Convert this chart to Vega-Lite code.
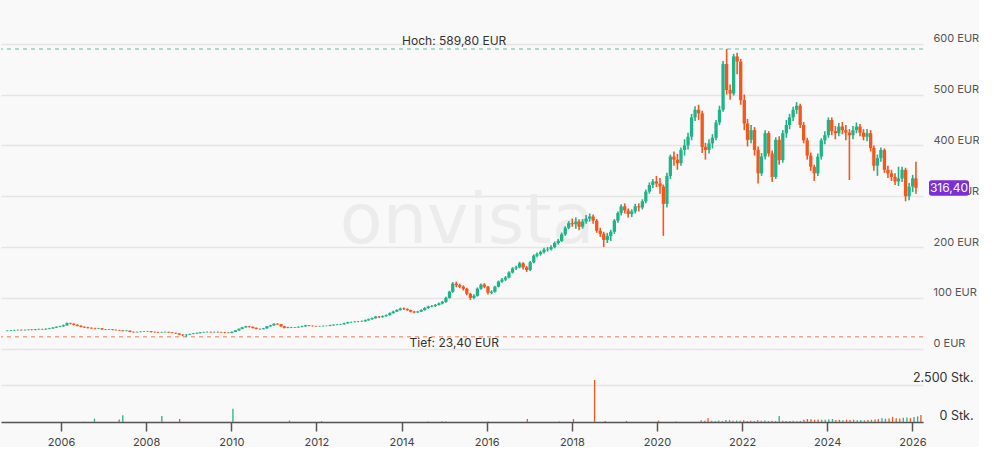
{
  "$schema": "https://vega.github.io/schema/vega-lite/v6.json",
  "background": "#f9f9f9",
  "padding": {"left": 0, "top": 0, "right": 0, "bottom": 0},
  "spacing": 0,
  "bounds": "flush",
  "config": {"view": {"stroke": null}, "font": "Inter"},
  "datasets": {
    "ohlc": [
      {"d":"2004-08-15","o":35,"h":36.3,"l":34.3,"c":35.5,"v":0},
      {"d":"2004-09-15","o":35.5,"h":37,"l":34.8,"c":36,"v":0},
      {"d":"2004-10-15","o":36,"h":37.3,"l":35.2,"c":36.5,"v":0},
      {"d":"2004-11-15","o":36.5,"h":38,"l":35.8,"c":37,"v":0},
      {"d":"2004-12-15","o":37,"h":37.8,"l":35.6,"c":36.5,"v":0},
      {"d":"2005-01-15","o":36.5,"h":38,"l":35.7,"c":37,"v":0},
      {"d":"2005-02-15","o":37,"h":38.4,"l":36.2,"c":37.5,"v":0},
      {"d":"2005-03-15","o":37.5,"h":38.5,"l":36.1,"c":37,"v":0},
      {"d":"2005-04-15","o":37,"h":38.9,"l":36.3,"c":38,"v":0},
      {"d":"2005-05-15","o":38,"h":39.5,"l":37.2,"c":38.5,"v":0},
      {"d":"2005-06-15","o":38.5,"h":39.4,"l":37.1,"c":38,"v":0},
      {"d":"2005-07-15","o":38,"h":40,"l":37.3,"c":39,"v":0},
      {"d":"2005-08-15","o":39,"h":41,"l":38.2,"c":40,"v":0},
      {"d":"2005-09-15","o":40,"h":42.4,"l":39.3,"c":41.5,"v":0},
      {"d":"2005-10-15","o":41.5,"h":44,"l":40.6,"c":43,"v":0},
      {"d":"2005-11-15","o":43,"h":45.2,"l":42,"c":44,"v":0},
      {"d":"2005-12-15","o":44,"h":47.5,"l":43.2,"c":46,"v":0},
      {"d":"2006-01-15","o":46,"h":51.5,"l":45.4,"c":50,"v":0},
      {"d":"2006-02-15","o":50,"h":51.2,"l":47.8,"c":49,"v":0},
      {"d":"2006-03-15","o":49,"h":50,"l":46,"c":47,"v":0},
      {"d":"2006-04-15","o":47,"h":48,"l":44,"c":45,"v":0},
      {"d":"2006-05-15","o":45,"h":46,"l":42,"c":43,"v":0},
      {"d":"2006-06-15","o":43,"h":44,"l":40.8,"c":42,"v":0},
      {"d":"2006-07-15","o":42,"h":43,"l":40,"c":41,"v":20},
      {"d":"2006-08-15","o":41,"h":42,"l":39.2,"c":40,"v":0},
      {"d":"2006-09-15","o":40,"h":41,"l":38.5,"c":39.5,"v":0},
      {"d":"2006-10-15","o":39.5,"h":41,"l":38.6,"c":40,"v":225},
      {"d":"2006-11-15","o":40,"h":40.8,"l":37.3,"c":38,"v":0},
      {"d":"2006-12-15","o":38,"h":38.8,"l":36.6,"c":37.5,"v":0},
      {"d":"2007-01-15","o":37.5,"h":39,"l":36.8,"c":38,"v":0},
      {"d":"2007-02-15","o":38,"h":38.8,"l":36.2,"c":37,"v":0},
      {"d":"2007-03-15","o":37,"h":37.8,"l":35.6,"c":36.5,"v":0},
      {"d":"2007-04-15","o":36.5,"h":37.3,"l":35.2,"c":36,"v":0},
      {"d":"2007-05-15","o":36,"h":36.8,"l":34.2,"c":35,"v":170},
      {"d":"2007-06-15","o":35,"h":36.4,"l":34.2,"c":35.5,"v":450},
      {"d":"2007-07-15","o":35.5,"h":36,"l":32.4,"c":33,"v":0},
      {"d":"2007-08-15","o":33,"h":33.8,"l":31.4,"c":32.5,"v":0},
      {"d":"2007-09-15","o":32.5,"h":33.9,"l":31.8,"c":33,"v":0},
      {"d":"2007-10-15","o":33,"h":34.4,"l":32.3,"c":33.5,"v":0},
      {"d":"2007-11-15","o":33.5,"h":35,"l":32.8,"c":34,"v":0},
      {"d":"2007-12-15","o":34,"h":35.1,"l":33.2,"c":34.3,"v":0},
      {"d":"2008-01-15","o":34.3,"h":34.8,"l":32,"c":33,"v":0},
      {"d":"2008-02-15","o":33,"h":33.8,"l":31.6,"c":32.5,"v":0},
      {"d":"2008-03-15","o":32.5,"h":33.2,"l":31,"c":32,"v":0},
      {"d":"2008-04-15","o":32,"h":33.4,"l":31.3,"c":32.5,"v":0},
      {"d":"2008-05-15","o":32.5,"h":33.9,"l":31.9,"c":33,"v":405},
      {"d":"2008-06-15","o":33,"h":33.6,"l":31.2,"c":32,"v":0},
      {"d":"2008-07-15","o":32,"h":32.6,"l":30.2,"c":31,"v":0},
      {"d":"2008-08-15","o":31,"h":31.7,"l":29.2,"c":30,"v":0},
      {"d":"2008-09-15","o":30,"h":30.6,"l":27,"c":28,"v":0},
      {"d":"2008-10-15","o":28,"h":28.8,"l":24.5,"c":27.5,"v":200},
      {"d":"2008-11-15","o":27.5,"h":28.6,"l":23.4,"c":27.8,"v":0},
      {"d":"2008-12-15","o":27.8,"h":29.7,"l":27,"c":29,"v":0},
      {"d":"2009-01-15","o":29,"h":30.8,"l":28.3,"c":30,"v":0},
      {"d":"2009-02-15","o":30,"h":31.8,"l":29.2,"c":31,"v":0},
      {"d":"2009-03-15","o":31,"h":32.9,"l":30,"c":32,"v":0},
      {"d":"2009-04-15","o":32,"h":33.4,"l":31.2,"c":32.5,"v":0},
      {"d":"2009-05-15","o":32.5,"h":33.9,"l":31.8,"c":33,"v":0},
      {"d":"2009-06-15","o":33,"h":33.7,"l":31.6,"c":32.5,"v":0},
      {"d":"2009-07-15","o":32.5,"h":33.8,"l":31.7,"c":33,"v":0},
      {"d":"2009-08-15","o":33,"h":33.6,"l":31.6,"c":32.5,"v":0},
      {"d":"2009-09-15","o":32.5,"h":33.2,"l":31.2,"c":32,"v":0},
      {"d":"2009-10-15","o":32,"h":32.7,"l":30.6,"c":31.5,"v":0},
      {"d":"2009-11-15","o":31.5,"h":32.3,"l":30.2,"c":31,"v":0},
      {"d":"2009-12-15","o":31,"h":33.7,"l":30.5,"c":33,"v":0},
      {"d":"2010-01-15","o":33,"h":36.8,"l":32.5,"c":36,"v":900},
      {"d":"2010-02-15","o":36,"h":39.8,"l":35.4,"c":39,"v":0},
      {"d":"2010-03-15","o":39,"h":42.9,"l":38.3,"c":42,"v":0},
      {"d":"2010-04-15","o":42,"h":45,"l":41.2,"c":44,"v":0},
      {"d":"2010-05-15","o":44,"h":45,"l":41.6,"c":43,"v":0},
      {"d":"2010-06-15","o":43,"h":43.8,"l":40,"c":41,"v":0},
      {"d":"2010-07-15","o":41,"h":41.7,"l":38,"c":39,"v":0},
      {"d":"2010-08-15","o":39,"h":39.8,"l":37.5,"c":38.5,"v":0},
      {"d":"2010-09-15","o":38.5,"h":40.9,"l":37.9,"c":40,"v":0},
      {"d":"2010-10-15","o":40,"h":44.9,"l":39.4,"c":44,"v":0},
      {"d":"2010-11-15","o":44,"h":47,"l":43.2,"c":46,"v":0},
      {"d":"2010-12-15","o":46,"h":50,"l":45.3,"c":49,"v":0},
      {"d":"2011-01-15","o":49,"h":50.2,"l":46.8,"c":48,"v":0},
      {"d":"2011-02-15","o":48,"h":48.6,"l":43,"c":44,"v":0},
      {"d":"2011-03-15","o":44,"h":44.6,"l":40,"c":41,"v":0},
      {"d":"2011-04-15","o":41,"h":43,"l":40.3,"c":42,"v":0},
      {"d":"2011-05-15","o":42,"h":43,"l":40.6,"c":41.5,"v":100},
      {"d":"2011-06-15","o":41.5,"h":42.9,"l":40.8,"c":42,"v":0},
      {"d":"2011-07-15","o":42,"h":44,"l":41.3,"c":43,"v":0},
      {"d":"2011-08-15","o":43,"h":45,"l":42.2,"c":44,"v":0},
      {"d":"2011-09-15","o":44,"h":47,"l":43.3,"c":46,"v":0},
      {"d":"2011-10-15","o":46,"h":46.8,"l":44.1,"c":45,"v":0},
      {"d":"2011-11-15","o":45,"h":45.8,"l":43.6,"c":44.5,"v":0},
      {"d":"2011-12-15","o":44.5,"h":45.3,"l":43.1,"c":44,"v":0},
      {"d":"2012-01-15","o":44,"h":45.1,"l":43.3,"c":44.3,"v":0},
      {"d":"2012-02-15","o":44.3,"h":45.6,"l":43.6,"c":44.8,"v":70},
      {"d":"2012-03-15","o":44.8,"h":45.9,"l":44,"c":45,"v":0},
      {"d":"2012-04-15","o":45,"h":47,"l":44.3,"c":46,"v":0},
      {"d":"2012-05-15","o":46,"h":48,"l":45.3,"c":47,"v":0},
      {"d":"2012-06-15","o":47,"h":48.5,"l":46.3,"c":47.5,"v":0},
      {"d":"2012-07-15","o":47.5,"h":49,"l":46.8,"c":48,"v":0},
      {"d":"2012-08-15","o":48,"h":51,"l":47.4,"c":50,"v":0},
      {"d":"2012-09-15","o":50,"h":53,"l":49.3,"c":52,"v":0},
      {"d":"2012-10-15","o":52,"h":53.7,"l":51.2,"c":52.5,"v":0},
      {"d":"2012-11-15","o":52.5,"h":54.2,"l":51.6,"c":53,"v":0},
      {"d":"2012-12-15","o":53,"h":54.7,"l":52.1,"c":53.5,"v":0},
      {"d":"2013-01-15","o":53.5,"h":55.5,"l":52.6,"c":54,"v":0},
      {"d":"2013-02-15","o":54,"h":57.3,"l":53.2,"c":56,"v":0},
      {"d":"2013-03-15","o":56,"h":59.4,"l":55.1,"c":58,"v":0},
      {"d":"2013-04-15","o":58,"h":61.5,"l":57,"c":60,"v":0},
      {"d":"2013-05-15","o":60,"h":64.5,"l":59.2,"c":63,"v":0},
      {"d":"2013-06-15","o":63,"h":64.2,"l":60.5,"c":62,"v":0},
      {"d":"2013-07-15","o":62,"h":65.5,"l":61.2,"c":64,"v":0},
      {"d":"2013-08-15","o":64,"h":67.5,"l":63,"c":66,"v":0},
      {"d":"2013-09-15","o":66,"h":71.5,"l":65.2,"c":70,"v":0},
      {"d":"2013-10-15","o":70,"h":74.8,"l":69,"c":73,"v":0},
      {"d":"2013-11-15","o":73,"h":77.8,"l":72,"c":76,"v":0},
      {"d":"2013-12-15","o":76,"h":80.8,"l":75,"c":79,"v":0},
      {"d":"2014-01-15","o":79,"h":81,"l":76.2,"c":78,"v":0},
      {"d":"2014-02-15","o":78,"h":79.5,"l":74.5,"c":76,"v":0},
      {"d":"2014-03-15","o":76,"h":77,"l":71.5,"c":73,"v":0},
      {"d":"2014-04-15","o":73,"h":74.5,"l":69.8,"c":71.5,"v":0},
      {"d":"2014-05-15","o":71.5,"h":74.6,"l":70.5,"c":73,"v":0},
      {"d":"2014-06-15","o":73,"h":77.6,"l":72.2,"c":76,"v":0},
      {"d":"2014-07-15","o":76,"h":81.7,"l":75,"c":80,"v":0},
      {"d":"2014-08-15","o":80,"h":84.6,"l":78.5,"c":83,"v":40},
      {"d":"2014-09-15","o":83,"h":86,"l":81.6,"c":84,"v":0},
      {"d":"2014-10-15","o":84,"h":88,"l":82,"c":86,"v":0},
      {"d":"2014-11-15","o":86,"h":91,"l":84.8,"c":89,"v":0},
      {"d":"2014-12-15","o":89,"h":94,"l":87.2,"c":92,"v":50},
      {"d":"2015-01-15","o":92,"h":102,"l":90.5,"c":100,"v":40},
      {"d":"2015-02-15","o":100,"h":114,"l":98.5,"c":112,"v":0},
      {"d":"2015-03-15","o":112,"h":131,"l":110,"c":128,"v":0},
      {"d":"2015-04-15","o":128,"h":132,"l":121,"c":125,"v":0},
      {"d":"2015-05-15","o":125,"h":128,"l":119,"c":122,"v":0},
      {"d":"2015-06-15","o":122,"h":124.5,"l":114.5,"c":118,"v":0},
      {"d":"2015-07-15","o":118,"h":120,"l":105,"c":108,"v":0},
      {"d":"2015-08-15","o":108,"h":110,"l":96,"c":100,"v":0},
      {"d":"2015-09-15","o":100,"h":107,"l":97.5,"c":104,"v":0},
      {"d":"2015-10-15","o":104,"h":120.5,"l":102.5,"c":118,"v":0},
      {"d":"2015-11-15","o":118,"h":128.5,"l":116,"c":126,"v":0},
      {"d":"2015-12-15","o":126,"h":129,"l":119,"c":122,"v":0},
      {"d":"2016-01-15","o":122,"h":123.5,"l":106.5,"c":110,"v":30},
      {"d":"2016-02-15","o":110,"h":115,"l":107,"c":112,"v":0},
      {"d":"2016-03-15","o":112,"h":124,"l":110.5,"c":122,"v":0},
      {"d":"2016-04-15","o":122,"h":134,"l":120.5,"c":132,"v":0},
      {"d":"2016-05-15","o":132,"h":139,"l":130,"c":136,"v":0},
      {"d":"2016-06-15","o":136,"h":143,"l":133,"c":140,"v":0},
      {"d":"2016-07-15","o":140,"h":152.5,"l":138.5,"c":150,"v":0},
      {"d":"2016-08-15","o":150,"h":160.5,"l":148,"c":158,"v":0},
      {"d":"2016-09-15","o":158,"h":163,"l":155,"c":160,"v":0},
      {"d":"2016-10-15","o":160,"h":171,"l":158,"c":168,"v":0},
      {"d":"2016-11-15","o":168,"h":170,"l":156,"c":160,"v":0},
      {"d":"2016-12-15","o":160,"h":162.5,"l":151,"c":155,"v":200},
      {"d":"2017-01-15","o":155,"h":172.5,"l":153,"c":170,"v":0},
      {"d":"2017-02-15","o":170,"h":185.5,"l":168,"c":183,"v":0},
      {"d":"2017-03-15","o":183,"h":189.5,"l":180,"c":186,"v":0},
      {"d":"2017-04-15","o":186,"h":193,"l":183,"c":190,"v":0},
      {"d":"2017-05-15","o":190,"h":198.5,"l":187.5,"c":195,"v":0},
      {"d":"2017-06-15","o":195,"h":200,"l":191,"c":196,"v":0},
      {"d":"2017-07-15","o":196,"h":203.5,"l":193,"c":200,"v":0},
      {"d":"2017-08-15","o":200,"h":211,"l":197.5,"c":208,"v":0},
      {"d":"2017-09-15","o":208,"h":216,"l":205,"c":212,"v":40},
      {"d":"2017-10-15","o":212,"h":228.5,"l":210,"c":225,"v":0},
      {"d":"2017-11-15","o":225,"h":241,"l":222,"c":238,"v":0},
      {"d":"2017-12-15","o":238,"h":251,"l":235,"c":247,"v":0},
      {"d":"2018-01-15","o":247,"h":256,"l":240,"c":245,"v":200},
      {"d":"2018-02-15","o":245,"h":258,"l":236,"c":250,"v":0},
      {"d":"2018-03-15","o":250,"h":254,"l":233,"c":240,"v":0},
      {"d":"2018-04-15","o":240,"h":255,"l":236,"c":250,"v":0},
      {"d":"2018-05-15","o":250,"h":263,"l":246,"c":256,"v":0},
      {"d":"2018-06-15","o":256,"h":266,"l":250,"c":260,"v":0},
      {"d":"2018-07-15","o":260,"h":264,"l":246,"c":252,"v":2838},
      {"d":"2018-08-15","o":252,"h":255,"l":228,"c":232,"v":0},
      {"d":"2018-09-15","o":232,"h":238,"l":220,"c":226,"v":0},
      {"d":"2018-10-15","o":226,"h":230,"l":200,"c":214,"v":60},
      {"d":"2018-11-15","o":214,"h":228,"l":208,"c":222,"v":0},
      {"d":"2018-12-15","o":222,"h":234,"l":212,"c":230,"v":0},
      {"d":"2019-01-15","o":230,"h":255,"l":226,"c":252,"v":0},
      {"d":"2019-02-15","o":252,"h":270,"l":248,"c":267,"v":0},
      {"d":"2019-03-15","o":267,"h":284,"l":262,"c":280,"v":0},
      {"d":"2019-04-15","o":280,"h":286,"l":266,"c":272,"v":80},
      {"d":"2019-05-15","o":272,"h":276,"l":258,"c":265,"v":0},
      {"d":"2019-06-15","o":265,"h":274,"l":259,"c":270,"v":0},
      {"d":"2019-07-15","o":270,"h":285,"l":266,"c":280,"v":0},
      {"d":"2019-08-15","o":280,"h":286,"l":270,"c":278,"v":0},
      {"d":"2019-09-15","o":278,"h":294,"l":274,"c":290,"v":0},
      {"d":"2019-10-15","o":290,"h":313,"l":286,"c":309,"v":0},
      {"d":"2019-11-15","o":309,"h":327,"l":305,"c":322,"v":0},
      {"d":"2019-12-15","o":322,"h":334,"l":316,"c":329,"v":0},
      {"d":"2020-01-15","o":329,"h":340,"l":318,"c":325,"v":100},
      {"d":"2020-02-15","o":325,"h":336,"l":305,"c":319,"v":0},
      {"d":"2020-03-15","o":319,"h":323,"l":222,"c":285,"v":0},
      {"d":"2020-04-15","o":285,"h":346,"l":278,"c":340,"v":0},
      {"d":"2020-05-15","o":340,"h":382,"l":334,"c":378,"v":0},
      {"d":"2020-06-15","o":378,"h":388,"l":360,"c":372,"v":40},
      {"d":"2020-07-15","o":372,"h":383,"l":352,"c":365,"v":0},
      {"d":"2020-08-15","o":365,"h":396,"l":360,"c":391,"v":0},
      {"d":"2020-09-15","o":391,"h":412,"l":380,"c":400,"v":0},
      {"d":"2020-10-15","o":400,"h":425,"l":392,"c":417,"v":0},
      {"d":"2020-11-15","o":417,"h":462,"l":410,"c":455,"v":0},
      {"d":"2020-12-15","o":455,"h":477,"l":448,"c":470,"v":0},
      {"d":"2021-01-15","o":470,"h":480,"l":450,"c":463,"v":120},
      {"d":"2021-02-15","o":463,"h":468,"l":385,"c":397,"v":80},
      {"d":"2021-03-15","o":397,"h":405,"l":372,"c":391,"v":260},
      {"d":"2021-04-15","o":391,"h":412,"l":384,"c":404,"v":90},
      {"d":"2021-05-15","o":404,"h":422,"l":394,"c":415,"v":70},
      {"d":"2021-06-15","o":415,"h":450,"l":410,"c":445,"v":100},
      {"d":"2021-07-15","o":445,"h":478,"l":440,"c":470,"v":60},
      {"d":"2021-08-15","o":470,"h":566,"l":466,"c":560,"v":130},
      {"d":"2021-09-15","o":560,"h":589.8,"l":500,"c":509,"v":120},
      {"d":"2021-10-15","o":509,"h":520,"l":490,"c":502,"v":90},
      {"d":"2021-11-15","o":502,"h":580,"l":498,"c":575,"v":100},
      {"d":"2021-12-15","o":575,"h":582,"l":540,"c":565,"v":80},
      {"d":"2022-01-15","o":565,"h":570,"l":480,"c":489,"v":110},
      {"d":"2022-02-15","o":489,"h":500,"l":430,"c":443,"v":70},
      {"d":"2022-03-15","o":443,"h":452,"l":398,"c":411,"v":90},
      {"d":"2022-04-15","o":411,"h":440,"l":404,"c":430,"v":60},
      {"d":"2022-05-15","o":430,"h":436,"l":380,"c":391,"v":110},
      {"d":"2022-06-15","o":391,"h":398,"l":325,"c":345,"v":80},
      {"d":"2022-07-15","o":345,"h":385,"l":340,"c":378,"v":100},
      {"d":"2022-08-15","o":378,"h":430,"l":372,"c":424,"v":70},
      {"d":"2022-09-15","o":424,"h":428,"l":378,"c":384,"v":90},
      {"d":"2022-10-15","o":384,"h":390,"l":328,"c":338,"v":60},
      {"d":"2022-11-15","o":338,"h":416,"l":334,"c":411,"v":400},
      {"d":"2022-12-15","o":411,"h":418,"l":362,"c":371,"v":90},
      {"d":"2023-01-15","o":371,"h":430,"l":366,"c":424,"v":70},
      {"d":"2023-02-15","o":424,"h":450,"l":415,"c":440,"v":60},
      {"d":"2023-03-15","o":440,"h":462,"l":432,"c":455,"v":80},
      {"d":"2023-04-15","o":455,"h":476,"l":448,"c":470,"v":50},
      {"d":"2023-05-15","o":470,"h":485,"l":462,"c":478,"v":70},
      {"d":"2023-06-15","o":478,"h":482,"l":434,"c":440,"v":150},
      {"d":"2023-07-15","o":440,"h":446,"l":404,"c":410,"v":200},
      {"d":"2023-08-15","o":410,"h":415,"l":372,"c":380,"v":180},
      {"d":"2023-09-15","o":380,"h":386,"l":350,"c":358,"v":150},
      {"d":"2023-10-15","o":358,"h":362,"l":330,"c":345,"v":170},
      {"d":"2023-11-15","o":345,"h":384,"l":340,"c":378,"v":160},
      {"d":"2023-12-15","o":378,"h":414,"l":372,"c":410,"v":150},
      {"d":"2024-01-15","o":410,"h":428,"l":402,"c":420,"v":180},
      {"d":"2024-02-15","o":420,"h":455,"l":415,"c":450,"v":200},
      {"d":"2024-03-15","o":450,"h":455,"l":420,"c":428,"v":130},
      {"d":"2024-04-15","o":428,"h":438,"l":412,"c":424,"v":150},
      {"d":"2024-05-15","o":424,"h":444,"l":418,"c":437,"v":120},
      {"d":"2024-06-15","o":437,"h":446,"l":422,"c":430,"v":160},
      {"d":"2024-07-15","o":430,"h":440,"l":410,"c":425,"v":130},
      {"d":"2024-08-15","o":425,"h":432,"l":332,"c":420,"v":150},
      {"d":"2024-09-15","o":420,"h":438,"l":412,"c":430,"v":120},
      {"d":"2024-10-15","o":430,"h":445,"l":424,"c":437,"v":140},
      {"d":"2024-11-15","o":437,"h":442,"l":418,"c":425,"v":110},
      {"d":"2024-12-15","o":425,"h":432,"l":410,"c":417,"v":130},
      {"d":"2025-01-15","o":417,"h":432,"l":408,"c":424,"v":150},
      {"d":"2025-02-15","o":424,"h":430,"l":388,"c":395,"v":170},
      {"d":"2025-03-15","o":395,"h":400,"l":350,"c":360,"v":200},
      {"d":"2025-04-15","o":360,"h":382,"l":340,"c":375,"v":260},
      {"d":"2025-05-15","o":375,"h":396,"l":368,"c":391,"v":220},
      {"d":"2025-06-15","o":391,"h":394,"l":346,"c":352,"v":240},
      {"d":"2025-07-15","o":352,"h":360,"l":336,"c":345,"v":350},
      {"d":"2025-08-15","o":345,"h":352,"l":330,"c":338,"v":260},
      {"d":"2025-09-15","o":338,"h":345,"l":322,"c":329,"v":230},
      {"d":"2025-10-15","o":329,"h":358,"l":320,"c":335,"v":280},
      {"d":"2025-11-15","o":335,"h":358,"l":328,"c":352,"v":300},
      {"d":"2025-12-15","o":352,"h":356,"l":290,"c":300,"v":260},
      {"d":"2026-01-15","o":300,"h":326,"l":292,"c":319,"v":330},
      {"d":"2026-02-15","o":319,"h":342,"l":308,"c":335,"v":380},
      {"d":"2026-03-15","o":335,"h":368,"l":305,"c":316.4,"v":470}
    ]
  },
  "vconcat": [
    {
      "width": 922,
      "height": 360,
      "layer": [
        {
          "data": {"values": [{"d": "2015-07-19", "p": 208, "t": "onvista"}]},
          "mark": {"type": "text", "font": "DejaVu Sans", "fontSize": 70, "color": "#ececec", "align": "center", "baseline": "alphabetic"},
          "encoding": {
            "x": {"field": "d", "type": "temporal", "axis": null},
            "y": {"field": "p", "type": "quantitative", "title": null},
            "text": {"field": "t"}
          }
        },
        {
          "data": {"values": [{}]},
          "mark": {"type": "rule", "color": "#86d8c3", "strokeWidth": 1.5, "strokeDash": [4, 4]},
          "encoding": {"y": {"datum": 589.8}}
        },
        {
          "data": {"values": [{}]},
          "mark": {"type": "rule", "color": "#f5a285", "strokeWidth": 1.5, "strokeDash": [4, 4]},
          "encoding": {"y": {"datum": 23.4}}
        },
        {
          "data": {"name": "ohlc"},
          "mark": {"type": "rule", "strokeWidth": 1.6},
          "encoding": {
            "x": {"field": "d", "type": "temporal", "axis": null, "scale": {"domain": ["2004-08-04", "2026-04-02"]}},
            "y": {
              "field": "l",
              "type": "quantitative",
              "title": null,
              "scale": {"domain": [-22.2, 686], "nice": false, "zero": false},
              "axis": {
                "orient": "right",
                "values": [0, 100, 200, 300, 400, 500, 600],
                "labelExpr": "datum.value + ' EUR'",
                "ticks": false,
                "domain": false,
                "grid": true,
                "gridColor": "#e5e5e5",
                "gridWidth": 1.5,
                "labelAlign": "left",
                "labelBaseline": "bottom",
                "labelPadding": 10,
                "labelFontSize": 11,
                "labelColor": "#555555",
                "title": null
              }
            },
            "y2": {"field": "h"},
            "color": {"condition": {"test": "datum.c >= datum.o", "value": "#20b389"}, "value": "#f4561c"}
          }
        },
        {
          "data": {"name": "ohlc"},
          "mark": {"type": "bar", "width": 3.3},
          "encoding": {
            "x": {"field": "d", "type": "temporal", "axis": null},
            "y": {"field": "o", "type": "quantitative", "title": null},
            "y2": {"field": "c"},
            "color": {"condition": {"test": "datum.c >= datum.o", "value": "#20b389"}, "value": "#f4561c"}
          }
        },
        {
          "data": {"values": [{"d": "2015-03-28", "p": 589.8, "t": "Hoch: 589,80 EUR"}]},
          "mark": {"type": "text", "fontSize": 12, "color": "#333333", "align": "center", "baseline": "bottom", "dy": -1},
          "encoding": {
            "x": {"field": "d", "type": "temporal", "axis": null},
            "y": {"field": "p", "type": "quantitative", "title": null},
            "text": {"field": "t"}
          }
        },
        {
          "data": {"values": [{"d": "2015-03-28", "p": 23.4, "t": "Tief: 23,40 EUR"}]},
          "mark": {"type": "text", "fontSize": 12, "color": "#333333", "align": "center", "baseline": "top", "dy": 1},
          "encoding": {
            "x": {"field": "d", "type": "temporal", "axis": null},
            "y": {"field": "p", "type": "quantitative", "title": null},
            "text": {"field": "t"}
          }
        },
        {
          "data": {"values": [{"d": "2026-04-02", "p": 316.4, "t": "316,40"}]},
          "mark": {"type": "rect", "width": 40, "height": 15.5, "xOffset": 31, "cornerRadius": 2.5, "color": "#7b2fd6"},
          "encoding": {
            "x": {"field": "d", "type": "temporal", "axis": null},
            "y": {"field": "p", "type": "quantitative", "title": null}
          }
        },
        {
          "data": {"values": [{"d": "2026-04-02", "p": 316.4, "t": "316,40"}]},
          "mark": {"type": "text", "fontSize": 12, "color": "#ffffff", "align": "center", "baseline": "middle", "xOffset": 31},
          "encoding": {
            "x": {"field": "d", "type": "temporal", "axis": null},
            "y": {"field": "p", "type": "quantitative", "title": null},
            "text": {"field": "t"}
          }
        }
      ]
    },
    {
      "width": 922,
      "height": 62,
      "data": {"name": "ohlc"},
      "transform": [{"filter": "datum.v > 0"}],
      "mark": {"type": "rule", "strokeWidth": 1.3},
      "encoding": {
        "x": {
          "field": "d",
          "type": "temporal",
          "scale": {"domain": ["2004-08-04", "2026-04-02"]},
          "axis": {
            "format": "%Y",
            "tickCount": {"interval": "year", "step": 2},
            "grid": false,
            "domainColor": "#555555",
            "domainWidth": 1.5,
            "tickColor": "#555555",
            "tickWidth": 1.5,
            "tickSize": 9,
            "labelFontSize": 11,
            "labelColor": "#444444",
            "labelPadding": 5,
            "title": null
          }
        },
        "y": {
          "field": "v",
          "type": "quantitative",
          "scale": {"domain": [0, 4189], "nice": false},
          "axis": {
            "orient": "right",
            "values": [0, 2500],
            "labelExpr": "datum.value == 0 ? '0 Stk.' : '2.500 Stk.'",
            "ticks": false,
            "domain": false,
            "grid": true,
            "gridColor": "#e5e5e5",
            "gridWidth": 1.5,
            "labelAlign": "right",
            "labelBaseline": "bottom",
            "labelPadding": 50,
            "labelFontSize": 12.5,
            "labelColor": "#333333",
            "title": null
          }
        },
        "y2": {"datum": 0},
        "color": {"condition": {"test": "datum.c >= datum.o", "value": "#20b389"}, "value": "#f4561c"}
      }
    }
  ]
}
